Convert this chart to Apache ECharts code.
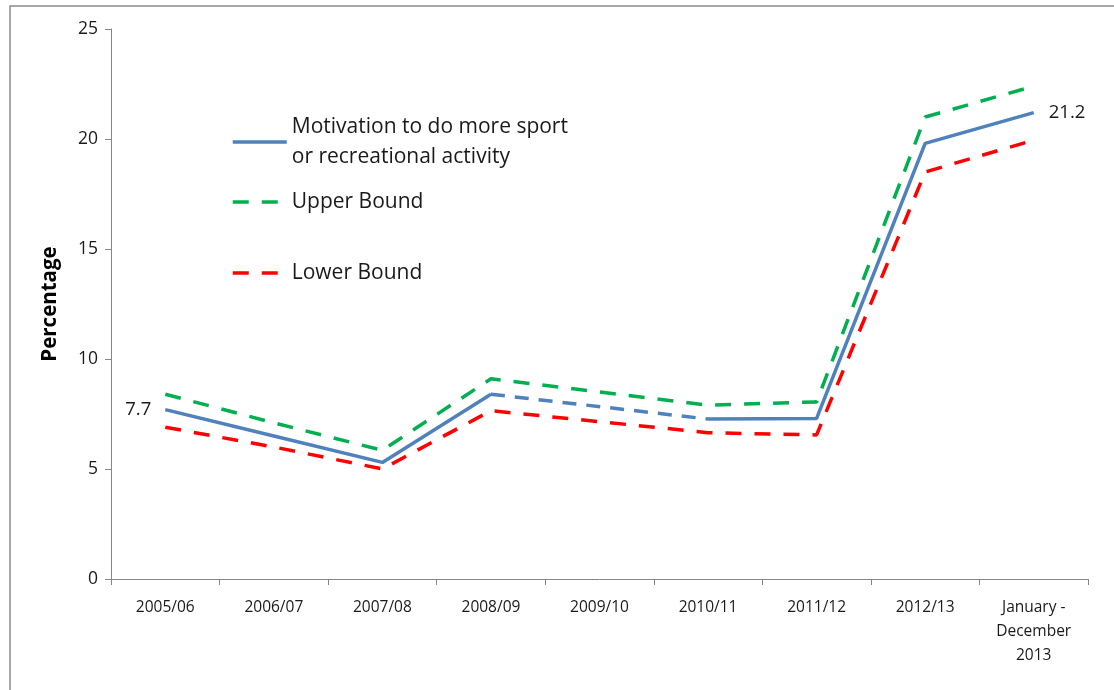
<!DOCTYPE html>
<html><head><meta charset="utf-8">
<script src="https://cdn.jsdelivr.net/npm/echarts@6/dist/echarts.min.js"></script>
<style>html,body{margin:0;padding:0;background:#fff}#c{width:1114px;height:690px}</style>
</head><body><div id="c"></div>
<script>
const categories = ['2005/06','2006/07','2007/08','2008/09','2009/10','2010/11','2011/12','2012/13','January -\nDecember\n2013'];
const motivation = [7.7, 6.5, 5.3, 8.4, null, 7.27, 7.3, 19.8, 21.2];
const motivationGap = [null, null, null, 8.4, null, 7.27, null, null, null];
const upperBound = [8.4, 7.1, 5.85, 9.1, 8.5, 7.9, 8.05, 21.0, 22.4];
const lowerBound = [6.9, 6.0, 5.0, 7.65, 7.15, 6.65, 6.55, 18.5, 19.95];
const yTicks = [0, 25, 5];
const names = ['Motivation to do more sport\nor recreational activity', 'Upper Bound', 'Lower Bound'];

const FONT = 'Open Sans';
const chart = echarts.init(document.getElementById('c'));
const mainData = motivation.map((v, i) => {
  if (i === 0) return {value: v, label: {show: true, position: 'left', distance: 14}};
  if (i === motivation.length - 1) return {value: v, label: {show: true, position: 'right', distance: 15}};
  return v;
});
const legendBase = {
  orient: 'vertical', left: 226, itemWidth: 54, itemHeight: 14, itemGap: 10,
  itemStyle: {opacity: 0},
  lineStyle: {width: 3.5},
  textStyle: {fontFamily: FONT, fontSize: 21, color: '#1a1a1a', lineHeight: 30},
  selectedMode: false
};
chart.setOption({
  animation: false,
  textStyle: {fontFamily: FONT},
  graphic: [{type: 'rect', shape: {x: 10, y: 6, width: 1200, height: 800}, style: {fill: 'none', stroke: '#8c8c8c', lineWidth: 1.5}, silent: true, z: -1}],
  grid: {left: 111, right: 26, top: 29, bottom: 111},
  legend: [
    Object.assign({}, legendBase, {top: 107, data: [names[0]]}),
    Object.assign({}, legendBase, {top: 182, data: [names[1]]}),
    Object.assign({}, legendBase, {top: 253, data: [names[2]]})
  ],
  xAxis: {
    type: 'category', data: categories, boundaryGap: true,
    axisLine: {lineStyle: {color: '#868686', width: 1}},
    axisTick: {show: true, length: 6, lineStyle: {color: '#868686'}},
    axisLabel: {fontFamily: FONT, fontSize: 15.5, color: '#1a1a1a', margin: 17, lineHeight: 24, interval: 0}
  },
  yAxis: {
    type: 'value', min: yTicks[0], max: yTicks[1], interval: yTicks[2],
    name: 'Percentage', nameLocation: 'middle', nameGap: 50, nameRotate: 90,
    nameTextStyle: {fontFamily: FONT, fontSize: 20.5, fontWeight: 'bold', color: '#000'},
    splitLine: {show: false},
    axisLine: {show: true, lineStyle: {color: '#868686', width: 1}},
    axisTick: {show: true, length: 6, lineStyle: {color: '#868686'}},
    axisLabel: {fontFamily: FONT, fontSize: 17.5, color: '#1a1a1a', margin: 13}
  },
  series: [
    {name: names[0], type: 'line', data: mainData, symbol: 'circle', symbolSize: 0, connectNulls: false,
     lineStyle: {color: '#4f81bd', width: 3.5}, itemStyle: {color: '#4f81bd'},
     label: {fontFamily: FONT, fontSize: 18.5, color: '#1a1a1a'}, z: 3},
    {name: 'gap', type: 'line', data: motivationGap, symbol: 'none', connectNulls: true,
     lineStyle: {color: '#4f81bd', width: 3.5, type: [14, 10]}, itemStyle: {color: '#4f81bd'}, z: 3},
    {name: names[1], type: 'line', data: upperBound, symbol: 'none',
     lineStyle: {color: '#00b050', width: 3.5, type: [16, 13]}, itemStyle: {color: '#00b050'}, z: 2},
    {name: names[2], type: 'line', data: lowerBound, symbol: 'none',
     lineStyle: {color: '#ff0000', width: 3.5, type: [16, 13]}, itemStyle: {color: '#ff0000'}, z: 2}
  ]
});
</script></body></html>
